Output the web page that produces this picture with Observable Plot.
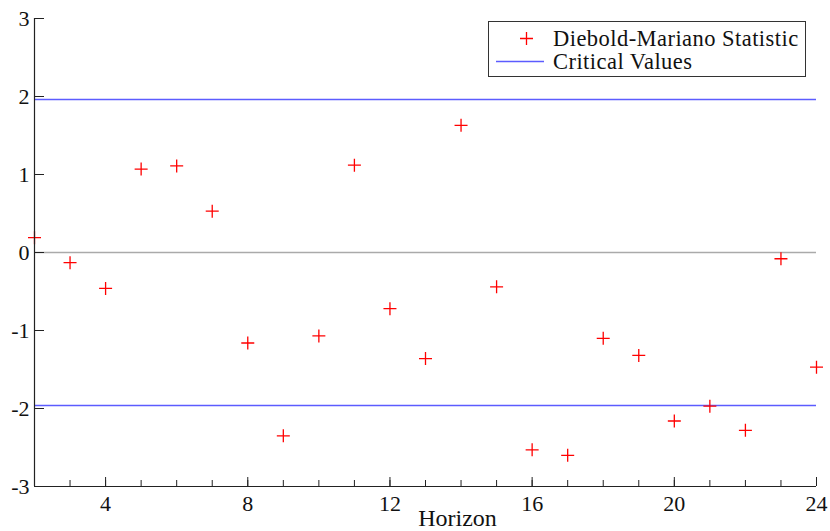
<!DOCTYPE html>
<html>
<head>
<meta charset="utf-8">
<script src="https://cdn.jsdelivr.net/npm/d3@7"></script>
<script src="https://cdn.jsdelivr.net/npm/@observablehq/plot@0.6"></script>
<style>
  html, body { margin: 0; padding: 0; background: #fff; }
  #wrap { position: relative; width: 830px; height: 531px; }
  #wrap svg, #wrap svg text { font-family: "Liberation Serif", serif !important; font-variant: normal !important; }
  #legend {
    position: absolute; left: 488px; top: 21px; width: 318px; height: 56px;
    border: 1px solid #333; background: #fff; box-sizing: border-box;
    font-family: "Liberation Serif", serif; font-size: 22.5px; letter-spacing: 0.45px; line-height: 21px; color: #111;
  }
  #legend .row { position: absolute; left: 0; height: 21px; display: flex; align-items: center; white-space: nowrap; }
  #legend svg { display: block; }
</style>
</head>
<body>
<div id="wrap"></div>
<script>
// Data
const horizon = [2, 3, 4, 5, 6, 7, 8, 9, 10, 11, 12, 13, 14, 15, 16, 17, 18, 19, 20, 21, 22, 23, 24];
const dmStatistic = [0.19, -0.13, -0.46, 1.07, 1.11, 0.53, -1.16, -2.35, -1.07, 1.12, -0.72, -1.36, 1.63, -0.44, -2.53, -2.60, -1.10, -1.32, -2.16, -1.97, -2.28, -0.08, -1.47];
const criticalValues = [1.96, -1.96];
const xTickLabels = [4, 8, 12, 16, 20, 24];
const xMinorTicks = horizon;
const yTicks = [-3, -2, -1, 0, 1, 2, 3];
const seriesNames = ["Diebold-Mariano Statistic", "Critical Values"];
const xLabel = "Horizon";

const W = 830, H = 531;
const mL = 34, mR = 14, mT = 18, mB = 45;
const plotW = W - mL - mR, plotH = H - mT - mB;
const serif = "Liberation Serif, serif";

const points = horizon.map((h, i) => ({h, v: dmStatistic[i]}));

const plusSymbol = {
  draw(ctx, size) {
    const r = Math.sqrt(size / Math.PI);
    ctx.moveTo(-r, 0); ctx.lineTo(r, 0);
    ctx.moveTo(0, -r); ctx.lineTo(0, r);
  }
};

const chart = Plot.plot({
  width: W, height: H,
  marginLeft: mL, marginRight: mR, marginTop: mT, marginBottom: mB,
  style: {fontFamily: serif, fontSize: "22px", background: "#fff", color: "#111", overflow: "visible"},
  x: {domain: [2, 24]},
  y: {domain: [-3, 3]},
  marks: [
    Plot.ruleY([0], {stroke: "#aaaaaa", strokeWidth: 1.5}),
    Plot.ruleY(criticalValues, {stroke: "#5c5cff", strokeWidth: 1.5}),
    Plot.dot(points, {x: "h", y: "v", symbol: plusSymbol, r: 6.5, stroke: "#ff0000", strokeWidth: 1.3, fill: "none", clip: false}),
    // axis lines
    Plot.ruleX([2], {stroke: "#222", strokeWidth: 1.2}),
    Plot.ruleY([-3], {stroke: "#222", strokeWidth: 1.2}),
    // inward ticks
    Plot.tickX(xMinorTicks, {x: d => d, insetTop: plotH - 6, stroke: "#222"}),
    Plot.tickX(xTickLabels, {x: d => d, insetTop: plotH - 9, stroke: "#222"}),
    Plot.tickY(yTicks, {y: d => d, insetRight: plotW - 10, stroke: "#222"}),
    Plot.axisX(xTickLabels, {tickSize: 0, tickPadding: 9, tickFormat: d => String(d), fontFamily: serif, fontVariant: "normal", label: null}),
    Plot.axisY(yTicks, {tickSize: 0, tickPadding: 5, tickFormat: d => String(d), fontFamily: serif, fontVariant: "normal", label: null}),
    Plot.text([xLabel], {frameAnchor: "bottom", lineAnchor: "bottom", dx: 32, dy: 39, fontSize: 24, fontFamily: serif, fill: "#111"})
  ]
});

const wrap = document.getElementById("wrap");
wrap.appendChild(chart);

// Legend
const legend = document.createElement("div");
legend.id = "legend";
legend.innerHTML = `
  <div class="row" style="top:6px;">
    <svg width="64" height="21"><path d="M37.5,4 V17 M31,10.5 H44" stroke="#ff0000" stroke-width="1.3" fill="none"/></svg>
    <span>${seriesNames[0]}</span>
  </div>
  <div class="row" style="top:29px;">
    <svg width="64" height="21"><path d="M7,10.5 H55" stroke="#5c5cff" stroke-width="1.5" fill="none"/></svg>
    <span>${seriesNames[1]}</span>
  </div>`;
wrap.appendChild(legend);
</script>
</body>
</html>
